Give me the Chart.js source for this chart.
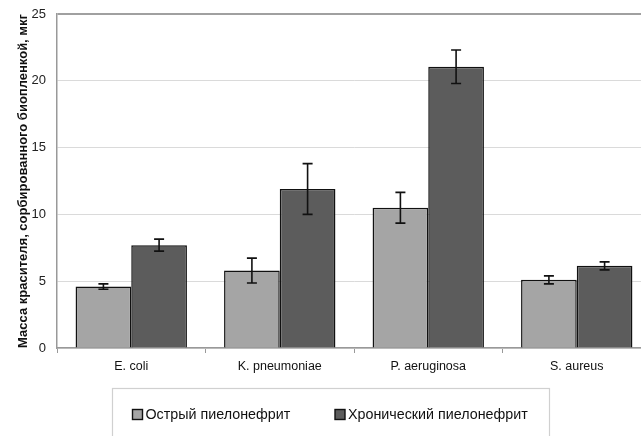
<!DOCTYPE html>
<html><head><meta charset="utf-8">
<script src="https://cdn.jsdelivr.net/npm/chart.js@4/dist/chart.umd.min.js"></script>
<style>
html,body{margin:0;padding:0;background:#fff;overflow:hidden;}
#wrap{width:641px;height:436px;overflow:hidden;position:relative;}
#c{position:absolute;left:0;top:0;}
</style></head><body>
<div id="wrap"><canvas id="c" width="655" height="436"></canvas></div>
<script>
const categories = ["E. coli", "K. pneumoniae", "P. aeruginosa", "S. aureus"];
const acuteLabel = "Острый пиелонефрит";
const chronicLabel = "Хронический пиелонефрит";
const acuteValues = [4.6, 5.8, 10.5, 5.1];
const acuteErrors = [0.2, 0.93, 1.15, 0.3];
const chronicValues = [7.7, 11.9, 21.05, 6.15];
const chronicErrors = [0.45, 1.9, 1.25, 0.3];
const yTicks = [0, 5, 10, 15, 20, 25];
const yTitle = "Масса красителя, сорбированного биопленкой, мкг";

const FONT = "'Liberation Sans', Arial, sans-serif";

const errorBars = {
  id: 'errorBars',
  afterDatasetsDraw(chart) {
    const ctx = chart.ctx;
    const ys = chart.scales.y;
    chart.data.datasets.forEach((ds, di) => {
      const meta = chart.getDatasetMeta(di);
      meta.data.forEach((bar, i) => {
        const v = ds.data[i], e = ds.errors[i];
        const yt = ys.getPixelForValue(v + e), yb = ys.getPixelForValue(v - e);
        const x = bar.x, cap = 5;
        ctx.save();
        ctx.strokeStyle = '#111';
        ctx.lineWidth = 1.6;
        ctx.beginPath();
        ctx.moveTo(x, yt); ctx.lineTo(x, yb);
        ctx.moveTo(x - cap, yt); ctx.lineTo(x + cap, yt);
        ctx.moveTo(x - cap, yb); ctx.lineTo(x + cap, yb);
        ctx.stroke();
        ctx.restore();
      });
    });
  }
};

const legendBox = {
  id: 'legendBox',
  afterDraw(chart) {
    const ctx = chart.ctx;
    ctx.save();
    ctx.strokeStyle = '#d0d0d0';
    ctx.lineWidth = 1.2;
    ctx.strokeRect(112.5, 388.5, 437, 60);
    ctx.font = "14.3px " + FONT;
    ctx.textBaseline = 'middle';
    const items = [[132.5, 0], [335, 1]];
    items.forEach(([x, di]) => {
      const ds = chart.data.datasets[di];
      ctx.fillStyle = ds.backgroundColor;
      ctx.fillRect(x, 409.5, 10, 10);
      ctx.strokeStyle = '#111';
      ctx.lineWidth = 1.4;
      ctx.strokeRect(x, 409.5, 10, 10);
      ctx.fillStyle = '#111';
      ctx.fillText(ds.label, x + 13, 415);
    });
    ctx.restore();
  }
};

new Chart(document.getElementById('c'), {
  type: 'bar',
  data: {
    labels: categories,
    datasets: [
      { label: acuteLabel, data: acuteValues, errors: acuteErrors,
        backgroundColor: '#a5a5a5', borderColor: '#111', borderWidth: 1.5 },
      { label: chronicLabel, data: chronicValues, errors: chronicErrors,
        backgroundColor: '#5c5c5c', borderColor: '#111', borderWidth: 1.5 }
    ]
  },
  options: {
    responsive: false,
    animation: false,
    devicePixelRatio: 1,
    layout: { padding: { left: 0, top: 14, right: 4, bottom: 0 } },
    datasets: { bar: { categoryPercentage: 0.75, barPercentage: 1.0 } },
    plugins: { legend: { display: false }, tooltip: { enabled: false } },
    scales: {
      x: {
        offset: true,
        grid: { display: true, offset: true, drawOnChartArea: false, tickLength: 5, color: '#999' },
        border: { color: '#999', width: 1.5 },
        ticks: { color: '#111', font: { family: FONT, size: 12.5 }, padding: 6 },
        afterFit(s) { s.height = 88; }
      },
      y: {
        min: 0, max: 25,
        afterBuildTicks(s) { s.ticks = yTicks.map(v => ({ value: v })); },
        grid: { color: (c) => c.tick && c.tick.value === 25 ? '#a0a0a0' : '#dadada',
                lineWidth: (c) => c.tick && c.tick.value === 25 ? 2 : 1, tickLength: 5, drawTicks: false },
        border: { color: '#999', width: 1.5 },
        ticks: { color: '#222', font: { family: FONT, size: 13 }, padding: 11 },
        title: { display: true, text: yTitle, color: '#111',
                 font: { family: FONT, size: 13, weight: 'bold' }, padding: { top: 16, bottom: 0 } },
        afterFit(s) { s.width = 57; s.paddingTop = 0; s.paddingBottom = 0; }
      }
    }
  },
  plugins: [errorBars, legendBox]
});
</script>
</body></html>
